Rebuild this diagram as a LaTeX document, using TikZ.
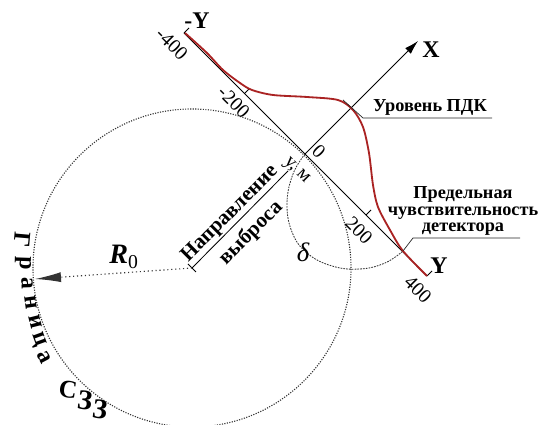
\documentclass[tikz,border=0pt]{standalone}
\usepackage{fontspec}
\setmainfont{Liberation Serif}
\usetikzlibrary{arrows.meta,calc}
\definecolor{prof}{RGB}{170,35,35}

\begin{document}
\begin{tikzpicture}[x=0.25mm,y=-0.25mm,
    axis/.style={black,line width=0.6pt},
    bound/.style={black!80,densely dotted,line width=0.8pt},
    iso/.style={black!80,dash pattern=on 1.2pt off 0.8pt,line width=0.6pt},
    curve/.style={prof,line width=1.3pt},
    lead/.style={black!85,line width=0.5pt},
    lbl/.style={font=\fontsize{13}{11.5}\selectfont\bfseries,align=center},
    ax/.style={font=\fontsize{17}{17}\selectfont\bfseries},
    num/.style={font=\fontsize{14}{14}\selectfont,rotate=-45},
    ltr/.style={font=\fontsize{17}{17}\selectfont\bfseries}]
    \useasboundingbox (0,0) rectangle (542,425);
    \coordinate (O) at (305,154);
    \coordinate (ym) at (184,33);
    \coordinate (yp) at (427,276);
    \coordinate (xe) at (418,41);
    \coordinate (C) at (192,268);
    \coordinate (dirE) at (288,171);
    \coordinate (Rl) at (35,279);
    \coordinate (t1) at ($(ym)!0.5!(O)$);
    \coordinate (t2) at ($(O)!0.5!(yp)$);
    \coordinate (pk1) at (343,100);
    \coordinate (pk2) at (363,118);
    \coordinate (pk3) at (492,118);
    \coordinate (dl) at (403,251);
    \coordinate (dl2) at (413,238);
    \coordinate (dl3) at (520,238);
    % boundary of the zone
    \draw[bound] (C) circle[radius=39.75mm];
    % axes and ticks
    \draw[axis] (ym) -- (yp);
    \draw[axis,-{Latex[length=3.5mm,width=2mm]}] (O) -- (xe);
    \draw[axis] (C) -- (dirE);
    \draw[axis] (ym) -- ++(5,-5); \draw[axis] (yp) -- ++(5,-5);
    \draw[axis] (t1) -- ++(5,-5); \draw[axis] (t2) -- ++(5,-5);
    \draw[axis] (C) ++(-4,-4) -- ++(8,8);
    % radius
    \draw[black!80,dotted,line width=0.8pt,-{Latex[length=6.5mm,width=2.5mm]}] (C) -- (Rl);
    % isoline
    \draw[iso] plot[smooth,tension=0.7] coordinates {(O) (293,174) (287,203)
      (292,232) (307,253) (332,266) (360,269) (385,263) (dl)};
    % profile
    \draw[curve] plot[smooth,tension=0.5] coordinates {(185,33) (207,53)
      (223,70) (240,83) (252,90) (273,95) (307,97) (338,100) (353,110)
      (363,127) (369,153) (373,185) (378,207) (390,230) (dl) (427,276)};
    % leaders
    \draw[lead] (pk1) -- (pk2) -- (pk3);
    \draw[lead] (dl) -- (dl2) -- (dl3);
    % labels
    \node[ax] (lym) at (197,21) {-Y};
    \node[ax] (lx) at (431,50) {X};
    \node[ax] (lyp) at (439,266) {Y};
    \node[num] (n1) at (172,44) {-400};
    \node[num] (n2) at (234,102) {-200};
    \node[num] (n0) at (319,151) {0};
    \node[num] (nym) at (296,171) {у, м};
    \node[num] (n3) at (359,230) {200};
    \node[num] (n4) at (418,289) {400};
    \node[lbl] (pdk) at (430,107) {Уровень ПДК};
    \node[lbl] (det) at (463,211) {Предельная\\чувствительность\\детектора};
    \node[font=\fontsize{20}{20}\selectfont] (r0) at (124,257)
      {\textbf{\textit{R}}\textsubscript{0}};
    \node[lbl,font=\fontsize{15}{15}\selectfont\bfseries,rotate=45]
      (dir1) at (230,214) {Направление};
    \node[lbl,font=\fontsize{15}{15}\selectfont\bfseries,rotate=45]
      (dir2) at (251,233) {выброса};
    \node[font=\fontsize{19}{19}\selectfont\itshape] (dl0) at (303,252) {δ};
    \foreach \ch/\px/\py/\ang in {Г/22/240/-95,р/23/263/-92,а/27/283/-88,
        н/31/303/-82,и/35/322/-76,ц/38/340/-70,а/44/357/-62}
      \node[ltr,rotate=\ang] at (\px,\py) {\ch};
    \foreach \ch/\px/\py/\sz in {С/68/390/18,З/85/400/20,З/100/409/20}
      \node[font=\fontsize{\sz}{\sz}\selectfont\bfseries,rotate=-8]
        at (\px,\py) {\ch};
  \end{tikzpicture}
\end{document}
